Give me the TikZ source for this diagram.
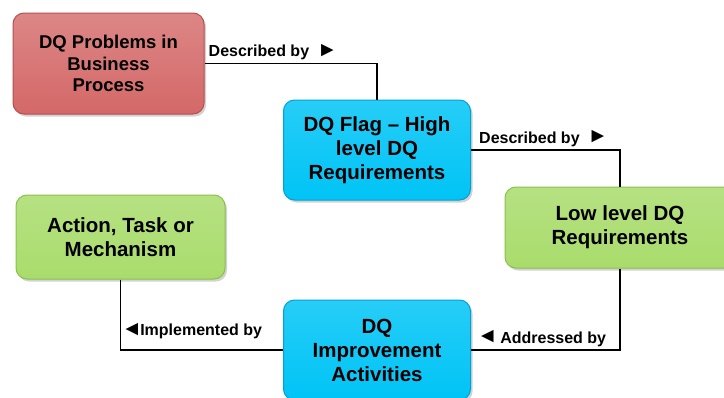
\documentclass[tikz,border=0pt]{standalone}
\usepackage{fontspec}
\setmainfont{Liberation Sans}
\usepackage{xcolor}
\usetikzlibrary{calc,positioning,shadows}
\definecolor{ProblemRed}{HTML}{D46868}
\definecolor{ProblemEdge}{HTML}{B84E4E}
\definecolor{FlagCyan}{HTML}{00C4F6}
\definecolor{FlagEdge}{HTML}{00A2D4}
\definecolor{ReqGreen}{HTML}{A9DC6C}
\definecolor{ReqEdge}{HTML}{8AC04C}
\newcommand{\rtri}{\raisebox{0.5pt}{\scalebox{1.3}{►}}}
\newcommand{\ltri}{\raisebox{0.5pt}{\scalebox{1.3}{◄}}}

\begin{document}
\begin{tikzpicture}[x=1pt,y=-1pt,
    dqbox/.style={
        rounded corners=11pt,
        line width=1pt,
        align=center,
        inner sep=0pt,
        font=\fontsize{20.5}{24}\selectfont\bfseries,
        drop shadow={shadow xshift=2pt,shadow yshift=-2.5pt,opacity=0.35}
    },
    redbox/.style={dqbox,draw=ProblemEdge,top color=ProblemRed!80!white,bottom color=ProblemRed},
    cyanbox/.style={dqbox,draw=FlagEdge,top color=FlagCyan!85!white,bottom color=FlagCyan},
    greenbox/.style={dqbox,draw=ReqEdge,top color=ReqGreen!85!white,bottom color=ReqGreen},
    link/.style={line width=1.6pt,black},
    linklabel/.style={font=\fontsize{16}{18}\selectfont\bfseries,inner sep=0pt}
]
    \useasboundingbox[fill=white] (0,0) rectangle (724,397);

    % main boxes
    \node[redbox,minimum width=191pt,minimum height=101pt,
          font=\fontsize{18.5}{21.5}\selectfont\bfseries] (problems) at (108.5,63.5)
        {DQ Problems in\\Business\\Process};
    \node[cyanbox,minimum width=187pt,minimum height=100pt] (flag) at (377,150)
        {DQ Flag -- High\\level DQ\\Requirements};
    \node[greenbox,minimum width=230pt,minimum height=81pt] (lowreq) at (620,227.5)
        {Low level DQ\\Requirements};
    \node[greenbox,minimum width=209pt,minimum height=84pt] (action) at (120.5,237)
        {Action, Task or\\Mechanism};
    \node[cyanbox,minimum width=187pt,minimum height=100pt] (improve) at (377,350)
        {DQ\\Improvement\\Activities};

    % connectors
    \draw[link] (problems.east) -| (flag.north);
    \draw[link] (flag.east) -| (lowreq.north);
    \draw[link] (lowreq.south) |- (improve.east);
    \draw[link] (action.south) |- (improve.west);
    \coordinate (corner) at (action.south |- improve.west);

    % labels
    \node[linklabel,above right=3pt and 4pt of problems.east] (descA) {Described by\hspace{8pt}\rtri};
    \node[linklabel,above right=3pt and 8pt of flag.east] (descB) {Described by\hspace{8pt}\rtri};
    \node[linklabel,above right=3pt and 6pt of improve.east] (addr) {\ltri\hspace{2.5pt}Addressed by};
    \node[linklabel,above right=10.5pt and 1pt of corner] (impl) {\ltri\hspace{-2pt}Implemented by};
\end{tikzpicture}
\end{document}
